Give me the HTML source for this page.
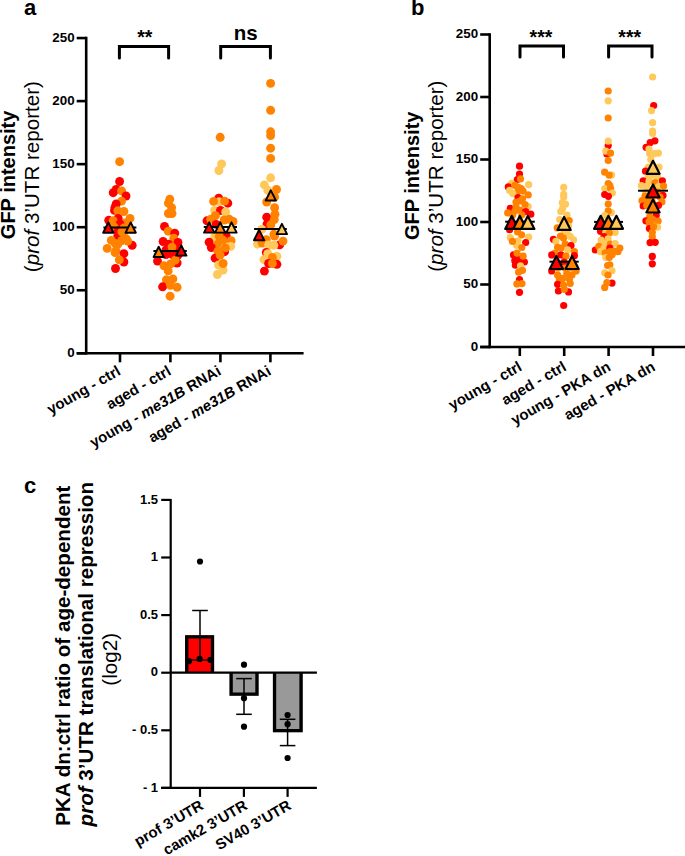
<!DOCTYPE html><html><head><meta charset="utf-8"><style>html,body{margin:0;padding:0;background:#fff;width:685px;height:856px;overflow:hidden}svg{display:block}text{font-family:"Liberation Sans",sans-serif}</style></head><body>
<svg width="685" height="856" viewBox="0 0 685 856">
<text x="24" y="15.2" font-size="22" font-weight="bold" font-style="normal" text-anchor="start"  >a</text>
<text x="411" y="15.2" font-size="22" font-weight="bold" font-style="normal" text-anchor="start"  >b</text>
<text x="24" y="493.2" font-size="22" font-weight="bold" font-style="normal" text-anchor="start"  >c</text>
<line x1="86.2" y1="36.75" x2="86.2" y2="354.6" stroke="#000" stroke-width="2.6" stroke-linecap="butt" />
<line x1="76.7" y1="353.3" x2="303.6" y2="353.3" stroke="#000" stroke-width="2.6" stroke-linecap="butt" />
<line x1="76.7" y1="353.3" x2="86.2" y2="353.3" stroke="#000" stroke-width="2.6" stroke-linecap="butt" />
<text x="74.7" y="357.1" font-size="13.4" font-weight="bold" font-style="normal" text-anchor="end"  >0</text>
<line x1="76.7" y1="290.25" x2="86.2" y2="290.25" stroke="#000" stroke-width="2.6" stroke-linecap="butt" />
<text x="74.7" y="294.05" font-size="13.4" font-weight="bold" font-style="normal" text-anchor="end"  >50</text>
<line x1="76.7" y1="227.2" x2="86.2" y2="227.2" stroke="#000" stroke-width="2.6" stroke-linecap="butt" />
<text x="74.7" y="231.0" font-size="13.4" font-weight="bold" font-style="normal" text-anchor="end"  >100</text>
<line x1="76.7" y1="164.15" x2="86.2" y2="164.15" stroke="#000" stroke-width="2.6" stroke-linecap="butt" />
<text x="74.7" y="167.95000000000002" font-size="13.4" font-weight="bold" font-style="normal" text-anchor="end"  >150</text>
<line x1="76.7" y1="101.1" x2="86.2" y2="101.1" stroke="#000" stroke-width="2.6" stroke-linecap="butt" />
<text x="74.7" y="104.89999999999999" font-size="13.4" font-weight="bold" font-style="normal" text-anchor="end"  >200</text>
<line x1="76.7" y1="38.05" x2="86.2" y2="38.05" stroke="#000" stroke-width="2.6" stroke-linecap="butt" />
<text x="74.7" y="41.849999999999994" font-size="13.4" font-weight="bold" font-style="normal" text-anchor="end"  >250</text>
<line x1="120" y1="353.3" x2="120" y2="362.3" stroke="#000" stroke-width="2.6" stroke-linecap="butt" />
<line x1="170.4" y1="353.3" x2="170.4" y2="362.3" stroke="#000" stroke-width="2.6" stroke-linecap="butt" />
<line x1="220.4" y1="353.3" x2="220.4" y2="362.3" stroke="#000" stroke-width="2.6" stroke-linecap="butt" />
<line x1="270.4" y1="353.3" x2="270.4" y2="362.3" stroke="#000" stroke-width="2.6" stroke-linecap="butt" />
<circle cx="119.6" cy="161.7" r="4.45" fill="#FF8200"/>
<circle cx="119.6" cy="181.5" r="4.45" fill="#FF0000"/>
<circle cx="116.2" cy="189.4" r="4.45" fill="#FF0000"/>
<circle cx="113.2" cy="192.7" r="4.45" fill="#FF0000"/>
<circle cx="121.6" cy="190.9" r="4.45" fill="#FF8200"/>
<circle cx="126.0" cy="196.0" r="4.45" fill="#FF0000"/>
<circle cx="121.6" cy="201.1" r="4.45" fill="#FF8200"/>
<circle cx="116.2" cy="204.0" r="4.45" fill="#FF0000"/>
<circle cx="114.5" cy="210.4" r="4.45" fill="#FF0000"/>
<circle cx="115.0" cy="207.5" r="4.45" fill="#FF0000"/>
<circle cx="117.8" cy="210.8" r="4.45" fill="#FF8200"/>
<circle cx="123.9" cy="211.5" r="4.45" fill="#FF8200"/>
<circle cx="130.0" cy="218.4" r="4.45" fill="#FF8200"/>
<circle cx="118.2" cy="218.4" r="4.45" fill="#FF0000"/>
<circle cx="108.7" cy="220.3" r="4.45" fill="#FF0000"/>
<circle cx="113.2" cy="220.6" r="4.45" fill="#FF8200"/>
<circle cx="125.4" cy="222.9" r="4.45" fill="#FF8200"/>
<circle cx="120.0" cy="224.0" r="4.45" fill="#FF0000"/>
<circle cx="114.0" cy="227.0" r="4.45" fill="#FF8200"/>
<circle cx="124.0" cy="228.0" r="4.45" fill="#FF8200"/>
<circle cx="118.0" cy="231.0" r="4.45" fill="#FF0000"/>
<circle cx="123.5" cy="232.8" r="4.45" fill="#FF8200"/>
<circle cx="117.8" cy="235.8" r="4.45" fill="#FF0000"/>
<circle cx="111.3" cy="240.4" r="4.45" fill="#FF8200"/>
<circle cx="132.2" cy="245.3" r="4.45" fill="#FF0000"/>
<circle cx="127.7" cy="241.2" r="4.45" fill="#FF8200"/>
<circle cx="117.8" cy="244.2" r="4.45" fill="#FF8200"/>
<circle cx="115.3" cy="243.4" r="4.45" fill="#FF8200"/>
<circle cx="121.9" cy="240.5" r="4.45" fill="#FF8200"/>
<circle cx="126.3" cy="239.0" r="4.45" fill="#FF8200"/>
<circle cx="121.9" cy="231.8" r="4.45" fill="#FF8200"/>
<circle cx="116.0" cy="250.7" r="4.45" fill="#FF8200"/>
<circle cx="107.2" cy="248.4" r="4.45" fill="#FF8200"/>
<circle cx="123.9" cy="253.7" r="4.45" fill="#FF0000"/>
<circle cx="115.1" cy="252.6" r="4.45" fill="#FF8200"/>
<circle cx="123.9" cy="262.0" r="4.45" fill="#FF0000"/>
<circle cx="119.3" cy="259.8" r="4.45" fill="#FF8200"/>
<circle cx="115.5" cy="268.5" r="4.45" fill="#FF0000"/>
<circle cx="169.8" cy="199.2" r="4.45" fill="#FF8200"/>
<circle cx="168.4" cy="203.2" r="4.45" fill="#FF8200"/>
<circle cx="171.6" cy="207.6" r="4.45" fill="#FF8200"/>
<circle cx="168.4" cy="213.5" r="4.45" fill="#FF8200"/>
<circle cx="172.0" cy="213.5" r="4.45" fill="#FF8200"/>
<circle cx="164.5" cy="226.5" r="4.45" fill="#FF0000"/>
<circle cx="168.2" cy="231.2" r="4.45" fill="#FF8200"/>
<circle cx="174.8" cy="233.1" r="4.45" fill="#FF0000"/>
<circle cx="173.8" cy="238.2" r="4.45" fill="#FF8200"/>
<circle cx="163.1" cy="241.5" r="4.45" fill="#FF0000"/>
<circle cx="178.0" cy="242.4" r="4.45" fill="#FF0000"/>
<circle cx="168.7" cy="244.3" r="4.45" fill="#FF0000"/>
<circle cx="176.0" cy="249.0" r="4.45" fill="#FF0000"/>
<circle cx="166.0" cy="250.0" r="4.45" fill="#FF0000"/>
<circle cx="170.0" cy="251.0" r="4.45" fill="#FF0000"/>
<circle cx="172.0" cy="247.1" r="4.45" fill="#FF8200"/>
<circle cx="165.9" cy="254.6" r="4.45" fill="#FF0000"/>
<circle cx="172.4" cy="254.6" r="4.45" fill="#FF0000"/>
<circle cx="178.0" cy="255.0" r="4.45" fill="#FF0000"/>
<circle cx="157.5" cy="261.1" r="4.45" fill="#FF0000"/>
<circle cx="177.1" cy="263.0" r="4.45" fill="#FF0000"/>
<circle cx="175.2" cy="260.2" r="4.45" fill="#FF8200"/>
<circle cx="164.0" cy="265.8" r="4.45" fill="#FF8200"/>
<circle cx="170.6" cy="263.9" r="4.45" fill="#FF8200"/>
<circle cx="168.2" cy="270.9" r="4.45" fill="#FF8200"/>
<circle cx="166.4" cy="279.8" r="4.45" fill="#FF8200"/>
<circle cx="172.9" cy="278.9" r="4.45" fill="#FF8200"/>
<circle cx="162.6" cy="286.8" r="4.45" fill="#FF0000"/>
<circle cx="170.6" cy="285.4" r="4.45" fill="#FF8200"/>
<circle cx="177.1" cy="287.3" r="4.45" fill="#FF8200"/>
<circle cx="170.1" cy="296.2" r="4.45" fill="#FF8200"/>
<circle cx="220.2" cy="137.3" r="4.45" fill="#FF8200"/>
<circle cx="221.6" cy="163.9" r="4.45" fill="#FFC85A"/>
<circle cx="218.9" cy="170.5" r="4.45" fill="#FFC85A"/>
<circle cx="218.7" cy="198.1" r="4.45" fill="#FF0000"/>
<circle cx="219.1" cy="201.8" r="4.45" fill="#FFC85A"/>
<circle cx="227.8" cy="203.2" r="4.45" fill="#FF0000"/>
<circle cx="213.6" cy="201.4" r="4.45" fill="#FF8200"/>
<circle cx="224.6" cy="201.1" r="4.45" fill="#FF8200"/>
<circle cx="214.7" cy="210.5" r="4.45" fill="#FFC85A"/>
<circle cx="220.5" cy="210.5" r="4.45" fill="#FF0000"/>
<circle cx="225.7" cy="212.0" r="4.45" fill="#FFC85A"/>
<circle cx="215.4" cy="215.7" r="4.45" fill="#FF8200"/>
<circle cx="207.0" cy="220.8" r="4.45" fill="#FF0000"/>
<circle cx="210.7" cy="219.3" r="4.45" fill="#FF8200"/>
<circle cx="224.2" cy="220.0" r="4.45" fill="#FF8200"/>
<circle cx="229.3" cy="219.3" r="4.45" fill="#FF8200"/>
<circle cx="233.0" cy="221.5" r="4.45" fill="#FF8200"/>
<circle cx="216.2" cy="224.4" r="4.45" fill="#FF0000"/>
<circle cx="226.2" cy="235.8" r="4.45" fill="#FF0000"/>
<circle cx="214.8" cy="236.5" r="4.45" fill="#FFC85A"/>
<circle cx="219.3" cy="236.5" r="4.45" fill="#FF8200"/>
<circle cx="209.1" cy="242.2" r="4.45" fill="#FF0000"/>
<circle cx="231.1" cy="240.7" r="4.45" fill="#FF8200"/>
<circle cx="223.1" cy="240.3" r="4.45" fill="#FF8200"/>
<circle cx="230.7" cy="246.4" r="4.45" fill="#FFC85A"/>
<circle cx="217.4" cy="244.5" r="4.45" fill="#FF8200"/>
<circle cx="211.3" cy="247.5" r="4.45" fill="#FF0000"/>
<circle cx="224.6" cy="251.7" r="4.45" fill="#FF0000"/>
<circle cx="225.4" cy="247.9" r="4.45" fill="#FF8200"/>
<circle cx="217.8" cy="251.3" r="4.45" fill="#FF8200"/>
<circle cx="215.1" cy="258.2" r="4.45" fill="#FF0000"/>
<circle cx="220.1" cy="255.1" r="4.45" fill="#FF8200"/>
<circle cx="223.1" cy="270.0" r="4.45" fill="#FFC85A"/>
<circle cx="217.4" cy="274.5" r="4.45" fill="#FFC85A"/>
<circle cx="218.6" cy="265.0" r="4.45" fill="#FFC85A"/>
<circle cx="223.1" cy="263.5" r="4.45" fill="#FF8200"/>
<circle cx="270.6" cy="83.4" r="4.45" fill="#FF8200"/>
<circle cx="270.6" cy="110.3" r="4.45" fill="#FF8200"/>
<circle cx="270.6" cy="131.8" r="4.45" fill="#FF8200"/>
<circle cx="270.6" cy="135.6" r="4.45" fill="#FF8200"/>
<circle cx="270.6" cy="148.2" r="4.45" fill="#FF8200"/>
<circle cx="270.6" cy="158.4" r="4.45" fill="#FF8200"/>
<circle cx="270.6" cy="177.8" r="4.45" fill="#FFC85A"/>
<circle cx="264.4" cy="184.9" r="4.45" fill="#FFC85A"/>
<circle cx="276.5" cy="189.5" r="4.45" fill="#FF8200"/>
<circle cx="267.8" cy="190.3" r="4.45" fill="#FFC85A"/>
<circle cx="274.6" cy="197.1" r="4.45" fill="#FF8200"/>
<circle cx="266.7" cy="202.0" r="4.45" fill="#FF8200"/>
<circle cx="274.6" cy="207.7" r="4.45" fill="#FF8200"/>
<circle cx="266.7" cy="217.2" r="4.45" fill="#FF0000"/>
<circle cx="275.0" cy="214.2" r="4.45" fill="#FF8200"/>
<circle cx="274.3" cy="219.5" r="4.45" fill="#FF8200"/>
<circle cx="267.0" cy="224.1" r="4.45" fill="#FF0000"/>
<circle cx="270.8" cy="224.8" r="4.45" fill="#FF8200"/>
<circle cx="261.7" cy="229.4" r="4.45" fill="#FFC85A"/>
<circle cx="273.9" cy="234.3" r="4.45" fill="#FF8200"/>
<circle cx="274.6" cy="236.1" r="4.45" fill="#FF8200"/>
<circle cx="279.6" cy="244.9" r="4.45" fill="#FF0000"/>
<circle cx="283.0" cy="241.1" r="4.45" fill="#FF8200"/>
<circle cx="257.5" cy="244.1" r="4.45" fill="#FFC85A"/>
<circle cx="266.3" cy="239.6" r="4.45" fill="#FF8200"/>
<circle cx="262.1" cy="243.0" r="4.45" fill="#FF8200"/>
<circle cx="268.6" cy="244.9" r="4.45" fill="#FFC85A"/>
<circle cx="273.9" cy="245.3" r="4.45" fill="#FFC85A"/>
<circle cx="266.3" cy="252.5" r="4.45" fill="#FF0000"/>
<circle cx="267.8" cy="253.6" r="4.45" fill="#FFC85A"/>
<circle cx="276.9" cy="256.3" r="4.45" fill="#FFC85A"/>
<circle cx="272.4" cy="257.4" r="4.45" fill="#FF8200"/>
<circle cx="264.0" cy="259.7" r="4.45" fill="#FFC85A"/>
<circle cx="268.6" cy="263.5" r="4.45" fill="#FF0000"/>
<circle cx="276.9" cy="264.3" r="4.45" fill="#FF0000"/>
<circle cx="272.4" cy="263.5" r="4.45" fill="#FF8200"/>
<circle cx="264.4" cy="271.1" r="4.45" fill="#FF0000"/>
<line x1="103.4" y1="227.5" x2="136.4" y2="227.5" stroke="#000" stroke-width="2.0" stroke-linecap="butt" />
<path d="M108.3 222.45L113.45 232.75L103.15 232.75Z" fill="#FF0000" stroke="#000" stroke-width="1.9" stroke-linejoin="round"/>
<path d="M130.7 222.45L135.85 232.75L125.55 232.75Z" fill="#FF8200" stroke="#000" stroke-width="1.9" stroke-linejoin="round"/>
<line x1="153.4" y1="251" x2="186.8" y2="251" stroke="#000" stroke-width="2.0" stroke-linecap="butt" />
<path d="M158.7 246.75L163.85 257.05L153.55 257.05Z" fill="#FF8200" stroke="#000" stroke-width="1.9" stroke-linejoin="round"/>
<path d="M181.3 245.35L186.45 255.65L176.15 255.65Z" fill="#FF0000" stroke="#000" stroke-width="1.9" stroke-linejoin="round"/>
<line x1="203.8" y1="227" x2="237" y2="227" stroke="#000" stroke-width="2.0" stroke-linecap="butt" />
<path d="M209.2 222.35L214.35 232.65L204.05 232.65Z" fill="#FF0000" stroke="#000" stroke-width="1.9" stroke-linejoin="round"/>
<path d="M220.2 222.35L225.35 232.65L215.05 232.65Z" fill="#FF8200" stroke="#000" stroke-width="1.9" stroke-linejoin="round"/>
<path d="M231.5 222.35L236.65 232.65L226.35 232.65Z" fill="#FFC85A" stroke="#000" stroke-width="1.9" stroke-linejoin="round"/>
<line x1="254.1" y1="229" x2="286.8" y2="229" stroke="#000" stroke-width="2.0" stroke-linecap="butt" />
<path d="M270.8 190.25L275.95 200.55L265.65 200.55Z" fill="#FF8200" stroke="#000" stroke-width="1.9" stroke-linejoin="round"/>
<path d="M259.1 229.95L264.25 240.25L253.95 240.25Z" fill="#FF0000" stroke="#000" stroke-width="1.9" stroke-linejoin="round"/>
<path d="M281.9 223.85L287.05 234.15L276.75 234.15Z" fill="#FFC85A" stroke="#000" stroke-width="1.9" stroke-linejoin="round"/>
<text x="15.4" y="174.9" font-size="20" font-weight="bold" font-style="normal" text-anchor="middle" transform="rotate(-90 15.4 174.9)" >GFP intensity</text>
<text x="38.6" y="176.6" font-size="20.6" text-anchor="middle" transform="rotate(-90 38.6 176.6)">(<tspan font-style="italic">prof</tspan> 3’UTR reporter)</text>
<path d="M119.4 58V46.5H168.6V58" fill="none" stroke="#000" stroke-width="3.0" stroke-linecap="round"/>
<text x="144.8" y="43.5" font-size="19.5" font-weight="bold" font-style="normal" text-anchor="middle"  >**</text>
<path d="M220.7 58V46.5H270.4V58" fill="none" stroke="#000" stroke-width="3.0" stroke-linecap="round"/>
<text x="245.8" y="40.1" font-size="20.5" font-weight="bold" font-style="normal" text-anchor="middle"  >ns</text>
<text x="121.6" y="373.90000000000003" font-size="15" font-weight="bold" text-anchor="end" transform="rotate(-30 121.6 373.90000000000003)">young - ctrl</text>
<text x="172.0" y="373.90000000000003" font-size="15" font-weight="bold" text-anchor="end" transform="rotate(-30 172.0 373.90000000000003)">aged - ctrl</text>
<text x="222.0" y="373.90000000000003" font-size="15" font-weight="bold" text-anchor="end" transform="rotate(-30 222.0 373.90000000000003)">young - <tspan font-style="italic">me31B</tspan> RNAi</text>
<text x="272.0" y="373.90000000000003" font-size="15" font-weight="bold" text-anchor="end" transform="rotate(-30 272.0 373.90000000000003)">aged - <tspan font-style="italic">me31B</tspan> RNAi</text>
<line x1="489.7" y1="33.2" x2="489.7" y2="348.3" stroke="#000" stroke-width="2.6" stroke-linecap="butt" />
<line x1="480.2" y1="347.0" x2="685" y2="347.0" stroke="#000" stroke-width="2.6" stroke-linecap="butt" />
<line x1="480.2" y1="347.0" x2="489.7" y2="347.0" stroke="#000" stroke-width="2.6" stroke-linecap="butt" />
<text x="478.2" y="350.8" font-size="13.4" font-weight="bold" font-style="normal" text-anchor="end"  >0</text>
<line x1="480.2" y1="284.5" x2="489.7" y2="284.5" stroke="#000" stroke-width="2.6" stroke-linecap="butt" />
<text x="478.2" y="288.3" font-size="13.4" font-weight="bold" font-style="normal" text-anchor="end"  >50</text>
<line x1="480.2" y1="222.0" x2="489.7" y2="222.0" stroke="#000" stroke-width="2.6" stroke-linecap="butt" />
<text x="478.2" y="225.8" font-size="13.4" font-weight="bold" font-style="normal" text-anchor="end"  >100</text>
<line x1="480.2" y1="159.5" x2="489.7" y2="159.5" stroke="#000" stroke-width="2.6" stroke-linecap="butt" />
<text x="478.2" y="163.3" font-size="13.4" font-weight="bold" font-style="normal" text-anchor="end"  >150</text>
<line x1="480.2" y1="97.0" x2="489.7" y2="97.0" stroke="#000" stroke-width="2.6" stroke-linecap="butt" />
<text x="478.2" y="100.8" font-size="13.4" font-weight="bold" font-style="normal" text-anchor="end"  >200</text>
<line x1="480.2" y1="34.5" x2="489.7" y2="34.5" stroke="#000" stroke-width="2.6" stroke-linecap="butt" />
<text x="478.2" y="38.3" font-size="13.4" font-weight="bold" font-style="normal" text-anchor="end"  >250</text>
<line x1="519.8" y1="347.0" x2="519.8" y2="356.0" stroke="#000" stroke-width="2.6" stroke-linecap="butt" />
<line x1="564.2" y1="347.0" x2="564.2" y2="356.0" stroke="#000" stroke-width="2.6" stroke-linecap="butt" />
<line x1="608.6" y1="347.0" x2="608.6" y2="356.0" stroke="#000" stroke-width="2.6" stroke-linecap="butt" />
<line x1="653" y1="347.0" x2="653" y2="356.0" stroke="#000" stroke-width="2.6" stroke-linecap="butt" />
<circle cx="519.5" cy="166.2" r="3.6" fill="#FF0000"/>
<circle cx="519.5" cy="174.0" r="3.6" fill="#FF0000"/>
<circle cx="517.3" cy="179.5" r="3.6" fill="#FF0000"/>
<circle cx="520.5" cy="178.9" r="3.6" fill="#FF8200"/>
<circle cx="511.6" cy="183.3" r="3.6" fill="#FFC85A"/>
<circle cx="528.6" cy="184.6" r="3.6" fill="#FFC85A"/>
<circle cx="508.3" cy="186.9" r="3.6" fill="#FF0000"/>
<circle cx="514.8" cy="185.3" r="3.6" fill="#FF8200"/>
<circle cx="509.6" cy="190.4" r="3.6" fill="#FFC85A"/>
<circle cx="521.2" cy="188.5" r="3.6" fill="#FF8200"/>
<circle cx="518.0" cy="191.1" r="3.6" fill="#FF8200"/>
<circle cx="523.1" cy="191.1" r="3.6" fill="#FF8200"/>
<circle cx="518.0" cy="187.0" r="3.6" fill="#FF8200"/>
<circle cx="512.8" cy="193.6" r="3.6" fill="#FFC85A"/>
<circle cx="528.2" cy="194.9" r="3.6" fill="#FF8200"/>
<circle cx="518.0" cy="197.5" r="3.6" fill="#FF0000"/>
<circle cx="522.5" cy="198.8" r="3.6" fill="#FF8200"/>
<circle cx="516.0" cy="202.0" r="3.6" fill="#FF8200"/>
<circle cx="520.0" cy="201.0" r="3.6" fill="#FF8200"/>
<circle cx="528.2" cy="206.5" r="3.6" fill="#FFC85A"/>
<circle cx="525.0" cy="204.5" r="3.6" fill="#FF8200"/>
<circle cx="510.3" cy="208.4" r="3.6" fill="#FF0000"/>
<circle cx="516.0" cy="206.5" r="3.6" fill="#FF8200"/>
<circle cx="507.7" cy="212.9" r="3.6" fill="#FF8200"/>
<circle cx="514.8" cy="211.0" r="3.6" fill="#FF8200"/>
<circle cx="520.5" cy="210.3" r="3.6" fill="#FF8200"/>
<circle cx="525.7" cy="211.6" r="3.6" fill="#FF0000"/>
<circle cx="530.8" cy="214.2" r="3.6" fill="#FF0000"/>
<circle cx="512.8" cy="214.8" r="3.6" fill="#FF8200"/>
<circle cx="521.8" cy="214.8" r="3.6" fill="#FF8200"/>
<circle cx="509.6" cy="229.7" r="3.6" fill="#FF0000"/>
<circle cx="517.6" cy="231.9" r="3.6" fill="#FF8200"/>
<circle cx="521.6" cy="234.8" r="3.6" fill="#FF8200"/>
<circle cx="510.3" cy="237.7" r="3.6" fill="#FFC85A"/>
<circle cx="528.6" cy="237.0" r="3.6" fill="#FFC85A"/>
<circle cx="518.0" cy="240.8" r="3.6" fill="#FFC85A"/>
<circle cx="516.7" cy="245.3" r="3.6" fill="#FFC85A"/>
<circle cx="512.5" cy="241.4" r="3.6" fill="#FF8200"/>
<circle cx="525.7" cy="242.5" r="3.6" fill="#FF0000"/>
<circle cx="521.8" cy="247.5" r="3.6" fill="#FF8200"/>
<circle cx="513.5" cy="254.9" r="3.6" fill="#FF0000"/>
<circle cx="519.3" cy="259.4" r="3.6" fill="#FF0000"/>
<circle cx="514.8" cy="260.7" r="3.6" fill="#FF0000"/>
<circle cx="524.4" cy="262.0" r="3.6" fill="#FF0000"/>
<circle cx="515.4" cy="265.2" r="3.6" fill="#FF0000"/>
<circle cx="517.0" cy="253.0" r="3.6" fill="#FF8200"/>
<circle cx="523.1" cy="256.2" r="3.6" fill="#FF8200"/>
<circle cx="520.5" cy="265.8" r="3.6" fill="#FFC85A"/>
<circle cx="522.5" cy="270.3" r="3.6" fill="#FF8200"/>
<circle cx="518.6" cy="272.2" r="3.6" fill="#FF8200"/>
<circle cx="519.5" cy="279.6" r="3.6" fill="#FF0000"/>
<circle cx="516.9" cy="283.9" r="3.6" fill="#FF8200"/>
<circle cx="522.0" cy="283.6" r="3.6" fill="#FF8200"/>
<circle cx="519.5" cy="292.3" r="3.6" fill="#FF0000"/>
<circle cx="563.7" cy="187.4" r="3.6" fill="#FFC85A"/>
<circle cx="563.7" cy="194.3" r="3.6" fill="#FFC85A"/>
<circle cx="563.7" cy="196.9" r="3.6" fill="#FFC85A"/>
<circle cx="562.3" cy="202.7" r="3.6" fill="#FFC85A"/>
<circle cx="565.5" cy="204.2" r="3.6" fill="#FFC85A"/>
<circle cx="562.6" cy="208.6" r="3.6" fill="#FFC85A"/>
<circle cx="560.8" cy="211.5" r="3.6" fill="#FFC85A"/>
<circle cx="567.0" cy="215.1" r="3.6" fill="#FFC85A"/>
<circle cx="559.7" cy="219.5" r="3.6" fill="#FFC85A"/>
<circle cx="569.2" cy="220.5" r="3.6" fill="#FF8200"/>
<circle cx="557.2" cy="227.8" r="3.6" fill="#FF8200"/>
<circle cx="568.5" cy="226.0" r="3.6" fill="#FFC85A"/>
<circle cx="564.0" cy="230.0" r="3.6" fill="#FFC85A"/>
<circle cx="567.0" cy="233.0" r="3.6" fill="#FFC85A"/>
<circle cx="553.4" cy="239.3" r="3.6" fill="#FF0000"/>
<circle cx="560.5" cy="236.0" r="3.6" fill="#FF8200"/>
<circle cx="563.5" cy="238.1" r="3.6" fill="#FF8200"/>
<circle cx="570.2" cy="236.4" r="3.6" fill="#FFC85A"/>
<circle cx="573.6" cy="239.8" r="3.6" fill="#FFC85A"/>
<circle cx="555.9" cy="241.4" r="3.6" fill="#FFC85A"/>
<circle cx="565.2" cy="244.0" r="3.6" fill="#FF8200"/>
<circle cx="571.0" cy="245.6" r="3.6" fill="#FF0000"/>
<circle cx="557.6" cy="247.3" r="3.6" fill="#FF8200"/>
<circle cx="561.0" cy="248.0" r="3.6" fill="#FF8200"/>
<circle cx="567.7" cy="249.8" r="3.6" fill="#FFC85A"/>
<circle cx="574.4" cy="251.5" r="3.6" fill="#FF8200"/>
<circle cx="574.4" cy="255.7" r="3.6" fill="#FF0000"/>
<circle cx="555.1" cy="253.2" r="3.6" fill="#FF8200"/>
<circle cx="551.7" cy="254.9" r="3.6" fill="#FF0000"/>
<circle cx="561.0" cy="254.9" r="3.6" fill="#FF0000"/>
<circle cx="566.0" cy="256.2" r="3.6" fill="#FF8200"/>
<circle cx="564.0" cy="262.0" r="3.6" fill="#FF0000"/>
<circle cx="551.7" cy="270.9" r="3.6" fill="#FF0000"/>
<circle cx="576.1" cy="270.9" r="3.6" fill="#FF8200"/>
<circle cx="558.0" cy="268.0" r="3.6" fill="#FF8200"/>
<circle cx="572.0" cy="268.0" r="3.6" fill="#FF8200"/>
<circle cx="565.0" cy="268.0" r="3.6" fill="#FF8200"/>
<circle cx="557.6" cy="275.1" r="3.6" fill="#FF8200"/>
<circle cx="566.8" cy="273.4" r="3.6" fill="#FF8200"/>
<circle cx="572.0" cy="275.0" r="3.6" fill="#FF8200"/>
<circle cx="559.3" cy="280.1" r="3.6" fill="#FF8200"/>
<circle cx="569.4" cy="279.3" r="3.6" fill="#FF8200"/>
<circle cx="562.6" cy="278.4" r="3.6" fill="#FF8200"/>
<circle cx="557.6" cy="284.3" r="3.6" fill="#FF0000"/>
<circle cx="570.2" cy="283.5" r="3.6" fill="#FF8200"/>
<circle cx="563.5" cy="285.1" r="3.6" fill="#FF8200"/>
<circle cx="558.4" cy="291.0" r="3.6" fill="#FF0000"/>
<circle cx="568.5" cy="291.9" r="3.6" fill="#FF0000"/>
<circle cx="564.3" cy="289.3" r="3.6" fill="#FF8200"/>
<circle cx="563.7" cy="305.5" r="3.6" fill="#FF0000"/>
<circle cx="608.2" cy="91.0" r="3.6" fill="#FF8200"/>
<circle cx="608.2" cy="100.8" r="3.6" fill="#FFC85A"/>
<circle cx="608.2" cy="118.0" r="3.6" fill="#FF8200"/>
<circle cx="608.2" cy="145.6" r="3.6" fill="#FF0000"/>
<circle cx="608.2" cy="141.2" r="3.6" fill="#FFC85A"/>
<circle cx="606.9" cy="154.0" r="3.6" fill="#FF0000"/>
<circle cx="605.8" cy="151.1" r="3.6" fill="#FFC85A"/>
<circle cx="610.5" cy="153.2" r="3.6" fill="#FF8200"/>
<circle cx="608.2" cy="160.5" r="3.6" fill="#FF8200"/>
<circle cx="611.6" cy="175.1" r="3.6" fill="#FFC85A"/>
<circle cx="604.7" cy="172.2" r="3.6" fill="#FF8200"/>
<circle cx="609.1" cy="175.1" r="3.6" fill="#FF8200"/>
<circle cx="608.2" cy="183.5" r="3.6" fill="#FF8200"/>
<circle cx="609.8" cy="185.7" r="3.6" fill="#FF8200"/>
<circle cx="604.7" cy="188.6" r="3.6" fill="#FFC85A"/>
<circle cx="610.5" cy="188.3" r="3.6" fill="#FF8200"/>
<circle cx="612.4" cy="193.0" r="3.6" fill="#FFC85A"/>
<circle cx="604.7" cy="194.5" r="3.6" fill="#FF0000"/>
<circle cx="608.4" cy="196.3" r="3.6" fill="#FF0000"/>
<circle cx="608.2" cy="204.0" r="3.6" fill="#FF8200"/>
<circle cx="611.3" cy="212.7" r="3.6" fill="#FFC85A"/>
<circle cx="608.2" cy="210.9" r="3.6" fill="#FF8200"/>
<circle cx="604.7" cy="215.7" r="3.6" fill="#FFC85A"/>
<circle cx="600.5" cy="231.3" r="3.6" fill="#FF0000"/>
<circle cx="605.8" cy="232.4" r="3.6" fill="#FFC85A"/>
<circle cx="615.1" cy="232.4" r="3.6" fill="#FFC85A"/>
<circle cx="609.3" cy="233.0" r="3.6" fill="#FF8200"/>
<circle cx="604.0" cy="236.5" r="3.6" fill="#FF0000"/>
<circle cx="601.1" cy="240.0" r="3.6" fill="#FFC85A"/>
<circle cx="608.1" cy="238.8" r="3.6" fill="#FFC85A"/>
<circle cx="604.6" cy="243.5" r="3.6" fill="#FFC85A"/>
<circle cx="610.4" cy="244.1" r="3.6" fill="#FF8200"/>
<circle cx="615.1" cy="243.5" r="3.6" fill="#FFC85A"/>
<circle cx="595.3" cy="250.0" r="3.6" fill="#FF0000"/>
<circle cx="598.8" cy="246.4" r="3.6" fill="#FF8200"/>
<circle cx="600.5" cy="251.7" r="3.6" fill="#FFC85A"/>
<circle cx="604.0" cy="248.0" r="3.6" fill="#FFC85A"/>
<circle cx="609.9" cy="248.2" r="3.6" fill="#FF0000"/>
<circle cx="619.8" cy="248.2" r="3.6" fill="#FF8200"/>
<circle cx="618.0" cy="251.7" r="3.6" fill="#FF8200"/>
<circle cx="605.2" cy="252.9" r="3.6" fill="#FF8200"/>
<circle cx="609.9" cy="251.7" r="3.6" fill="#FF8200"/>
<circle cx="612.2" cy="254.6" r="3.6" fill="#FF8200"/>
<circle cx="614.0" cy="251.0" r="3.6" fill="#FF8200"/>
<circle cx="607.5" cy="256.4" r="3.6" fill="#FF8200"/>
<circle cx="605.8" cy="257.5" r="3.6" fill="#FFC85A"/>
<circle cx="609.3" cy="257.5" r="3.6" fill="#FF8200"/>
<circle cx="607.6" cy="265.5" r="3.6" fill="#FF8200"/>
<circle cx="609.8" cy="264.8" r="3.6" fill="#FF8200"/>
<circle cx="604.7" cy="272.8" r="3.6" fill="#FFC85A"/>
<circle cx="612.0" cy="270.7" r="3.6" fill="#FFC85A"/>
<circle cx="608.0" cy="275.0" r="3.6" fill="#FF8200"/>
<circle cx="612.0" cy="283.1" r="3.6" fill="#FF0000"/>
<circle cx="606.9" cy="282.7" r="3.6" fill="#FF8200"/>
<circle cx="604.7" cy="287.4" r="3.6" fill="#FF8200"/>
<circle cx="652.6" cy="77.0" r="3.6" fill="#FFC85A"/>
<circle cx="653.7" cy="105.5" r="3.6" fill="#FF0000"/>
<circle cx="651.5" cy="110.6" r="3.6" fill="#FFC85A"/>
<circle cx="652.6" cy="122.7" r="3.6" fill="#FFC85A"/>
<circle cx="652.6" cy="131.0" r="3.6" fill="#FFC85A"/>
<circle cx="652.6" cy="133.5" r="3.6" fill="#FFC85A"/>
<circle cx="654.9" cy="140.8" r="3.6" fill="#FF0000"/>
<circle cx="650.2" cy="142.6" r="3.6" fill="#FF0000"/>
<circle cx="646.1" cy="147.3" r="3.6" fill="#FF0000"/>
<circle cx="649.0" cy="149.0" r="3.6" fill="#FFC85A"/>
<circle cx="649.6" cy="153.7" r="3.6" fill="#FFC85A"/>
<circle cx="658.4" cy="153.1" r="3.6" fill="#FFC85A"/>
<circle cx="654.3" cy="153.7" r="3.6" fill="#FFC85A"/>
<circle cx="650.8" cy="159.5" r="3.6" fill="#FFC85A"/>
<circle cx="648.4" cy="167.1" r="3.6" fill="#FFC85A"/>
<circle cx="659.0" cy="167.1" r="3.6" fill="#FFC85A"/>
<circle cx="645.5" cy="171.2" r="3.6" fill="#FF0000"/>
<circle cx="648.4" cy="175.9" r="3.6" fill="#FFC85A"/>
<circle cx="657.2" cy="175.9" r="3.6" fill="#FFC85A"/>
<circle cx="650.8" cy="175.6" r="3.6" fill="#FFC85A"/>
<circle cx="657.2" cy="177.3" r="3.6" fill="#FFC85A"/>
<circle cx="643.2" cy="180.8" r="3.6" fill="#FF0000"/>
<circle cx="662.4" cy="180.8" r="3.6" fill="#FF0000"/>
<circle cx="649.0" cy="181.4" r="3.6" fill="#FFC85A"/>
<circle cx="641.4" cy="185.5" r="3.6" fill="#FFC85A"/>
<circle cx="646.7" cy="186.1" r="3.6" fill="#FFC85A"/>
<circle cx="654.9" cy="182.6" r="3.6" fill="#FF8200"/>
<circle cx="658.4" cy="186.7" r="3.6" fill="#FFC85A"/>
<circle cx="663.6" cy="186.1" r="3.6" fill="#FF8200"/>
<circle cx="645.5" cy="191.9" r="3.6" fill="#FFC85A"/>
<circle cx="650.0" cy="190.0" r="3.6" fill="#FFC85A"/>
<circle cx="658.0" cy="192.0" r="3.6" fill="#FF8200"/>
<circle cx="663.0" cy="195.4" r="3.6" fill="#FF0000"/>
<circle cx="645.0" cy="196.0" r="3.6" fill="#FF8200"/>
<circle cx="660.0" cy="197.0" r="3.6" fill="#FF8200"/>
<circle cx="642.0" cy="200.7" r="3.6" fill="#FF8200"/>
<circle cx="646.7" cy="199.5" r="3.6" fill="#FF8200"/>
<circle cx="652.0" cy="201.0" r="3.6" fill="#FF8200"/>
<circle cx="661.9" cy="201.9" r="3.6" fill="#FF8200"/>
<circle cx="643.2" cy="206.0" r="3.6" fill="#FF0000"/>
<circle cx="646.7" cy="205.4" r="3.6" fill="#FF8200"/>
<circle cx="658.4" cy="205.4" r="3.6" fill="#FF0000"/>
<circle cx="652.0" cy="209.0" r="3.6" fill="#FF8200"/>
<circle cx="656.2" cy="215.6" r="3.6" fill="#FF0000"/>
<circle cx="649.8" cy="216.3" r="3.6" fill="#FF8200"/>
<circle cx="645.9" cy="220.8" r="3.6" fill="#FF0000"/>
<circle cx="649.1" cy="221.4" r="3.6" fill="#FF8200"/>
<circle cx="658.1" cy="221.1" r="3.6" fill="#FF8200"/>
<circle cx="653.0" cy="219.5" r="3.6" fill="#FF8200"/>
<circle cx="649.8" cy="224.6" r="3.6" fill="#FF8200"/>
<circle cx="657.5" cy="227.2" r="3.6" fill="#FFC85A"/>
<circle cx="649.4" cy="228.5" r="3.6" fill="#FF0000"/>
<circle cx="653.6" cy="226.6" r="3.6" fill="#FF8200"/>
<circle cx="652.3" cy="232.3" r="3.6" fill="#FF8200"/>
<circle cx="652.3" cy="236.8" r="3.6" fill="#FF8200"/>
<circle cx="650.1" cy="242.6" r="3.6" fill="#FF0000"/>
<circle cx="655.2" cy="242.3" r="3.6" fill="#FF0000"/>
<circle cx="652.3" cy="256.4" r="3.6" fill="#FF0000"/>
<circle cx="652.3" cy="263.8" r="3.6" fill="#FF0000"/>
<line x1="505.2" y1="221.7" x2="534.8" y2="221.7" stroke="#000" stroke-width="2.0" stroke-linecap="butt" />
<path d="M511.8 215.90L518.40 228.90L505.20 228.90Z" fill="#FF0000" stroke="#000" stroke-width="2.2" stroke-linejoin="round"/>
<path d="M519.8 215.90L526.40 228.90L513.20 228.90Z" fill="#FF8200" stroke="#000" stroke-width="2.2" stroke-linejoin="round"/>
<path d="M527.8 215.90L534.40 228.90L521.20 228.90Z" fill="#FFC85A" stroke="#000" stroke-width="2.2" stroke-linejoin="round"/>
<line x1="549.5" y1="261.7" x2="578.7" y2="261.7" stroke="#000" stroke-width="2.0" stroke-linecap="butt" />
<path d="M564.1 216.90L570.70 229.90L557.50 229.90Z" fill="#FFC85A" stroke="#000" stroke-width="2.2" stroke-linejoin="round"/>
<path d="M556.4 256.00L563.00 269.00L549.80 269.00Z" fill="#FF0000" stroke="#000" stroke-width="2.2" stroke-linejoin="round"/>
<path d="M572.1 256.00L578.70 269.00L565.50 269.00Z" fill="#FF8200" stroke="#000" stroke-width="2.2" stroke-linejoin="round"/>
<line x1="594.1" y1="221.9" x2="623" y2="221.9" stroke="#000" stroke-width="2.0" stroke-linecap="butt" />
<path d="M600.7 215.80L607.30 228.80L594.10 228.80Z" fill="#FF0000" stroke="#000" stroke-width="2.2" stroke-linejoin="round"/>
<path d="M608.4 215.80L615.00 228.80L601.80 228.80Z" fill="#FF8200" stroke="#000" stroke-width="2.2" stroke-linejoin="round"/>
<path d="M616.4 215.80L623.00 228.80L609.80 228.80Z" fill="#FFC85A" stroke="#000" stroke-width="2.2" stroke-linejoin="round"/>
<line x1="638" y1="190.7" x2="668" y2="190.7" stroke="#000" stroke-width="2.0" stroke-linecap="butt" />
<path d="M653 160.80L659.60 173.80L646.40 173.80Z" fill="#FFC85A" stroke="#000" stroke-width="2.2" stroke-linejoin="round"/>
<path d="M653 184.50L659.60 197.50L646.40 197.50Z" fill="#FF0000" stroke="#000" stroke-width="2.2" stroke-linejoin="round"/>
<path d="M653 199.50L659.60 212.50L646.40 212.50Z" fill="#FF8200" stroke="#000" stroke-width="2.2" stroke-linejoin="round"/>
<text x="418.8" y="175.8" font-size="20" font-weight="bold" font-style="normal" text-anchor="middle" transform="rotate(-90 418.8 175.8)" >GFP intensity</text>
<text x="442.6" y="176.2" font-size="20.6" text-anchor="middle" transform="rotate(-90 442.6 176.2)">(<tspan font-style="italic">prof</tspan> 3’UTR reporter)</text>
<path d="M520 57V46H563.5V57" fill="none" stroke="#000" stroke-width="3.0" stroke-linecap="round"/>
<text x="541" y="43.8" font-size="19.5" font-weight="bold" font-style="normal" text-anchor="middle"  >***</text>
<path d="M608.6 57V46H652V57" fill="none" stroke="#000" stroke-width="3.0" stroke-linecap="round"/>
<text x="629.7" y="43.8" font-size="19.5" font-weight="bold" font-style="normal" text-anchor="middle"  >***</text>
<text x="522.9" y="369.6" font-size="15" font-weight="bold" text-anchor="end" transform="rotate(-30 522.9 369.6)">young - ctrl</text>
<text x="567.3000000000001" y="369.6" font-size="15" font-weight="bold" text-anchor="end" transform="rotate(-30 567.3000000000001 369.6)">aged - ctrl</text>
<text x="611.7" y="369.6" font-size="15" font-weight="bold" text-anchor="end" transform="rotate(-30 611.7 369.6)">young - PKA dn</text>
<text x="656.1" y="369.6" font-size="15" font-weight="bold" text-anchor="end" transform="rotate(-30 656.1 369.6)">aged - PKA dn</text>
<line x1="170.7" y1="498.9" x2="170.7" y2="788.9" stroke="#000" stroke-width="2.2" stroke-linecap="butt" />
<line x1="161.2" y1="787.9" x2="316.9" y2="787.9" stroke="#000" stroke-width="2.2" stroke-linecap="butt" />
<line x1="161.2" y1="499.9" x2="170.7" y2="499.9" stroke="#000" stroke-width="2.2" stroke-linecap="butt" />
<text x="158.1" y="503.59999999999997" font-size="13" font-weight="bold" font-style="normal" text-anchor="end"  >1.5</text>
<line x1="161.2" y1="557.5" x2="170.7" y2="557.5" stroke="#000" stroke-width="2.2" stroke-linecap="butt" />
<text x="158.1" y="561.2" font-size="13" font-weight="bold" font-style="normal" text-anchor="end"  >1</text>
<line x1="161.2" y1="615.1" x2="170.7" y2="615.1" stroke="#000" stroke-width="2.2" stroke-linecap="butt" />
<text x="158.1" y="618.8000000000001" font-size="13" font-weight="bold" font-style="normal" text-anchor="end"  >0.5</text>
<line x1="161.2" y1="672.7" x2="170.7" y2="672.7" stroke="#000" stroke-width="2.2" stroke-linecap="butt" />
<text x="158.1" y="676.4000000000001" font-size="13" font-weight="bold" font-style="normal" text-anchor="end"  >0</text>
<line x1="161.2" y1="730.3" x2="170.7" y2="730.3" stroke="#000" stroke-width="2.2" stroke-linecap="butt" />
<text x="158.1" y="734.0" font-size="13" font-weight="bold" font-style="normal" text-anchor="end"  >- 0.5</text>
<line x1="161.2" y1="787.9" x2="170.7" y2="787.9" stroke="#000" stroke-width="2.2" stroke-linecap="butt" />
<text x="158.1" y="791.6" font-size="13" font-weight="bold" font-style="normal" text-anchor="end"  >- 1</text>
<line x1="200" y1="787.9" x2="200" y2="796.9" stroke="#000" stroke-width="2.2" stroke-linecap="butt" />
<line x1="243.9" y1="787.9" x2="243.9" y2="796.9" stroke="#000" stroke-width="2.2" stroke-linecap="butt" />
<line x1="287.6" y1="787.9" x2="287.6" y2="796.9" stroke="#000" stroke-width="2.2" stroke-linecap="butt" />
<rect x="185.1" y="635.3" width="29.0" height="37.40000000000009" fill="#FF0000"/>
<path d="M186.75 672.7V636.9499999999999H212.45V672.7" fill="none" stroke="#000" stroke-width="3.3"/>
<rect x="229.5" y="672.7" width="29.100000000000023" height="23.0" fill="#999999"/>
<path d="M231.15 672.7V694.0500000000001H256.95000000000005V672.7" fill="none" stroke="#000" stroke-width="3.3"/>
<rect x="272.9" y="672.7" width="29.80000000000001" height="59.5" fill="#999999"/>
<path d="M274.54999999999995 672.7V730.5500000000001H301.05V672.7" fill="none" stroke="#000" stroke-width="3.3"/>
<line x1="170.7" y1="672.7" x2="316.9" y2="672.7" stroke="#000" stroke-width="2.3"/>
<line x1="200" y1="610.5" x2="200" y2="659" stroke="#000" stroke-width="1.5" stroke-linecap="butt" />
<line x1="192.2" y1="610.5" x2="207.8" y2="610.5" stroke="#000" stroke-width="1.5" stroke-linecap="butt" />
<line x1="244" y1="678.6" x2="244" y2="714.3" stroke="#000" stroke-width="1.5" stroke-linecap="butt" />
<line x1="236.2" y1="678.6" x2="251.8" y2="678.6" stroke="#000" stroke-width="1.5" stroke-linecap="butt" />
<line x1="236.2" y1="714.3" x2="251.8" y2="714.3" stroke="#000" stroke-width="1.5" stroke-linecap="butt" />
<line x1="287.6" y1="719.3" x2="287.6" y2="745.6" stroke="#000" stroke-width="1.5" stroke-linecap="butt" />
<line x1="279.8" y1="719.3" x2="295.40000000000003" y2="719.3" stroke="#000" stroke-width="1.5" stroke-linecap="butt" />
<line x1="279.8" y1="745.6" x2="295.40000000000003" y2="745.6" stroke="#000" stroke-width="1.5" stroke-linecap="butt" />
<line x1="188.9" y1="660" x2="210.4" y2="660" stroke="#000" stroke-width="1.3" stroke-linecap="butt" />
<circle cx="200" cy="561.5" r="3.1" fill="#000"/>
<circle cx="188.9" cy="661.2" r="3.1" fill="#000"/>
<circle cx="199.6" cy="658.9" r="3.1" fill="#000"/>
<circle cx="210.4" cy="659.8" r="3.1" fill="#000"/>
<circle cx="244" cy="664.7" r="3.1" fill="#000"/>
<circle cx="244" cy="698.2" r="3.1" fill="#000"/>
<circle cx="244" cy="726.7" r="3.1" fill="#000"/>
<circle cx="287.6" cy="715" r="3.1" fill="#000"/>
<circle cx="287.6" cy="724.2" r="3.1" fill="#000"/>
<circle cx="287.6" cy="758" r="3.1" fill="#000"/>
<text x="69.6" y="655.7" font-size="20.6" font-weight="bold" text-anchor="middle" transform="rotate(-90 69.6 655.7)">PKA dn:ctrl ratio of age-dependent</text>
<text x="93.4" y="654.2" font-size="20.6" font-weight="bold" text-anchor="middle" transform="rotate(-90 93.4 654.2)"><tspan font-style="italic">prof</tspan> 3’UTR translational repression</text>
<text x="117" y="659.3" font-size="20.6" text-anchor="middle" transform="rotate(-90 117 659.3)">(log2)</text>
<text x="204.5" y="808.4" font-size="15" font-weight="bold" text-anchor="end" transform="rotate(-30 204.5 808.4)">prof 3’UTR</text>
<text x="248.4" y="808.4" font-size="15" font-weight="bold" text-anchor="end" transform="rotate(-30 248.4 808.4)">camk2 3’UTR</text>
<text x="292.1" y="808.4" font-size="15" font-weight="bold" text-anchor="end" transform="rotate(-30 292.1 808.4)">SV40 3’UTR</text>
</svg></body></html>
